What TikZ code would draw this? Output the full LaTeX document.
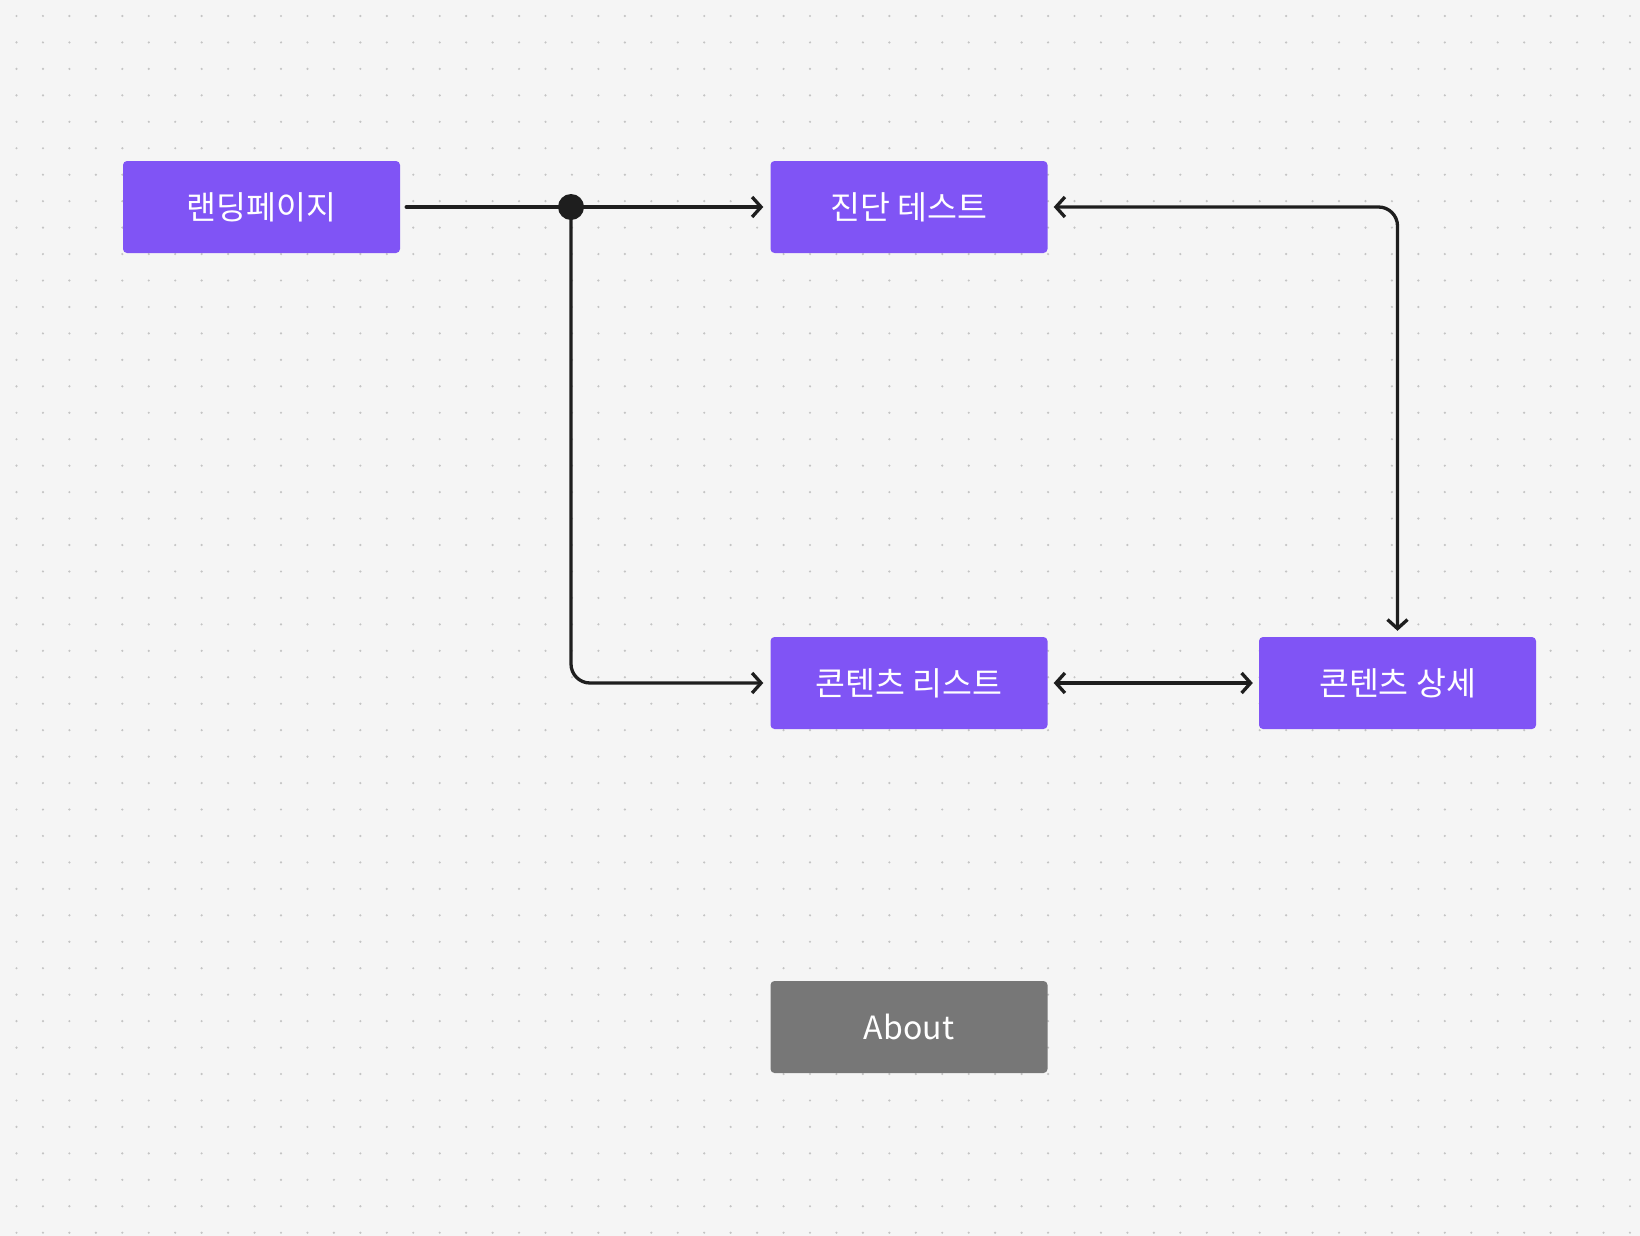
\documentclass[tikz,border=0pt]{standalone}
\usepackage{fontspec}
\setmainfont{Noto Sans CJK KR}
\usetikzlibrary{arrows.meta,calc}
\definecolor{bgc}{HTML}{F5F5F5}
\definecolor{dotc}{HTML}{C4C4C4}
\definecolor{purp}{RGB}{128,84,245}
\definecolor{grayb}{HTML}{777777}
\definecolor{linec}{HTML}{1E1E1E}
\tikzset{
  pagebox/.style={rectangle, rounded corners=4pt, fill=purp, text=white,
    minimum width=277pt, minimum height=92pt, inner sep=0pt,
    font=\fontsize{32.5}{38}\selectfont},
  graybox/.style={pagebox, fill=grayb, font=\fontsize{32}{38}\selectfont},
  conn/.style={draw=linec, line width=3.3pt, line cap=round,
    -{Straight Barb[length=9pt,width=20pt,line width=3.3pt]}},
  biconn/.style={conn, {Straight Barb[length=9pt,width=20pt,line width=3.3pt]}-{Straight Barb[length=9pt,width=20pt,line width=3.3pt]}},
  plainconn/.style={draw=linec, line width=3.3pt, line cap=round}
}
\begin{document}
\begin{tikzpicture}[x=1pt,y=-1pt]
\useasboundingbox (0,0) rectangle (1640,1236);
\fill[bgc] (0,0) rectangle (1640,1236);
\foreach \i in {0,...,61}{
  \foreach \j in {0,...,46}{
    \fill[dotc] ({16.5+\i*26.45},{16+\j*26.45}) circle (1.2pt);
  }
}
\node[pagebox] (land) at (261.5,207) {랜딩페이지};
\node[pagebox] (test) at (909,207) {진단 테스트};
\node[pagebox] (list) at (909,683) {콘텐츠 리스트};
\node[pagebox] (detail) at (1397.5,683) {콘텐츠 상세};
\node[graybox] (about) at (909,1027) {About};
\coordinate (junc) at (571,207);
\draw[conn, shorten <=6pt, shorten >=7pt] (land.east) -- (test.west);
\draw[conn, rounded corners=19pt, shorten >=7pt] (junc) |- (list.west);
\draw[biconn, rounded corners=19pt, shorten <=6pt, shorten >=6pt] (test.east) -| (detail.north);
\draw[biconn, shorten <=6pt, shorten >=6pt] (list.east) -- (detail.west);
\fill[linec] (junc) circle (13pt);
\end{tikzpicture}
\end{document}
